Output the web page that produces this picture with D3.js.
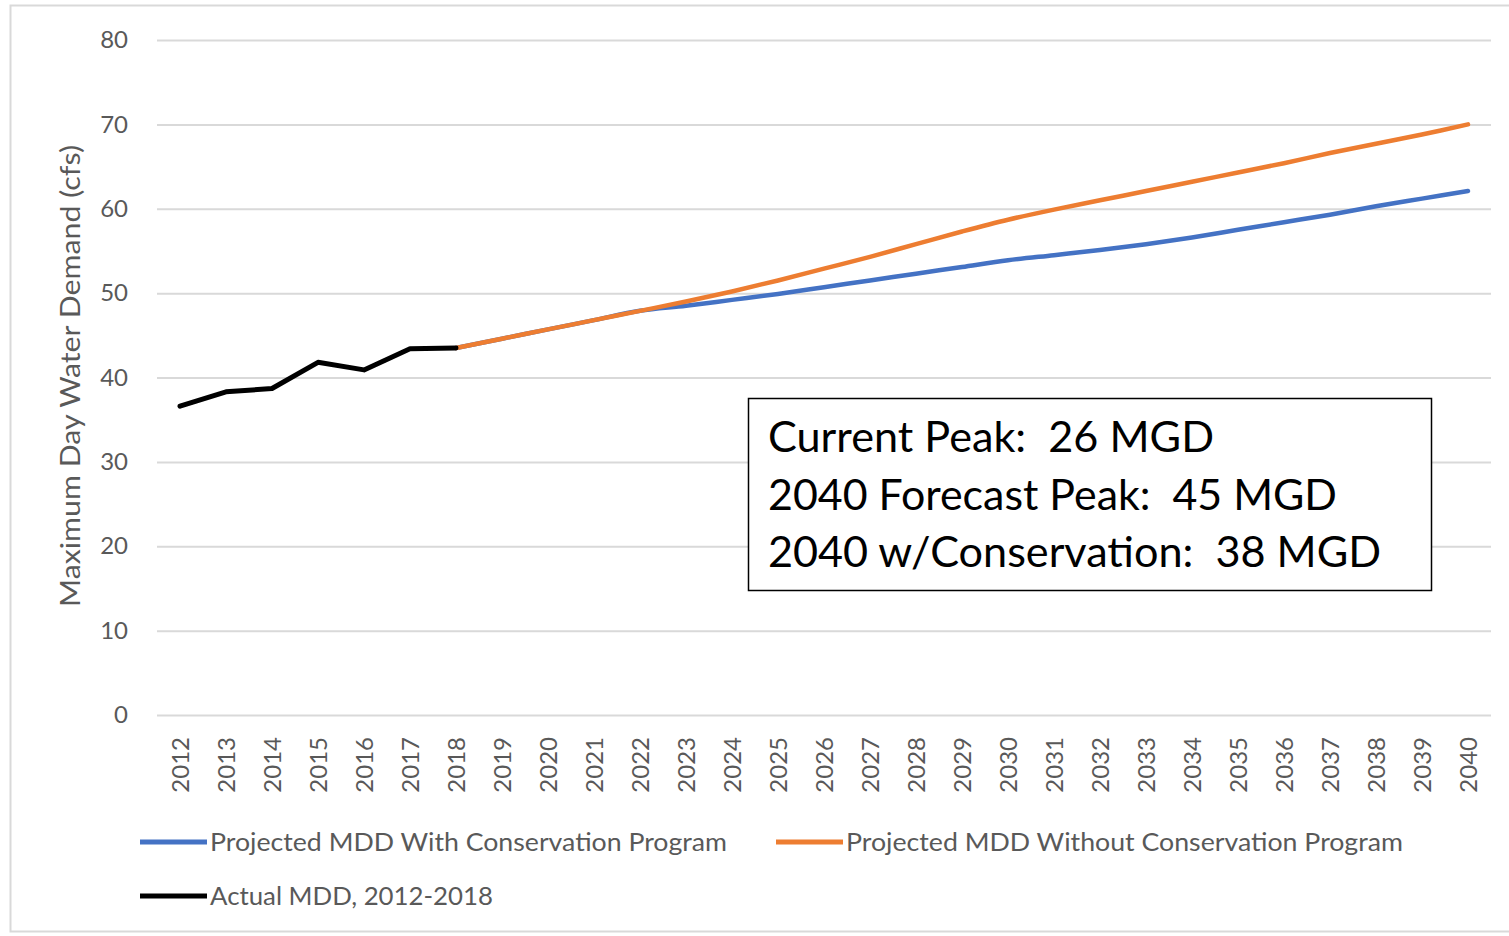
<!DOCTYPE html>
<html>
<head>
<meta charset="utf-8">
<script src="https://cdn.jsdelivr.net/npm/d3@7"></script>
<style>
  body { margin: 0; background: #fff; }
  svg { display: block; }
</style>
</head>
<body>
<div id="chart"></div>
<script>
// data (cfs)
const years = d3.range(2012, 2041).map(String);
const yTicks = [0, 10, 20, 30, 40, 50, 60, 70, 80];

const actualYears = ['2012', '2013', '2014', '2015', '2016', '2017', '2018'];
const actualValues = [36.6, 38.3, 38.7, 41.8, 40.9, 43.4, 43.5];

const projYears = d3.range(2018, 2041).map(String);
const withConservation = [43.5, 44.6, 45.7, 46.8, 47.9, 48.5, 49.2, 49.9, 50.7, 51.5, 52.3, 53.1,
  53.9, 54.5, 55.1, 55.8, 56.6, 57.5, 58.4, 59.3, 60.3, 61.2, 62.1];
const withoutConservation = [43.5, 44.6, 45.7, 46.8, 47.9, 49.0, 50.2, 51.5, 52.9, 54.3, 55.8, 57.3,
  58.7, 59.9, 61.0, 62.1, 63.2, 64.3, 65.4, 66.6, 67.7, 68.8, 70.0];

const legendLabels = [
  'Projected MDD With Conservation Program',
  'Projected MDD Without Conservation Program',
  'Actual MDD, 2012-2018'
];
const noteLines = [
  'Current Peak:  26 MGD',
  '2040 Forecast Peak:  45 MGD',
  '2040 w/Conservation:  38 MGD'
];

const width = 1509;
const height = 936;
const plot = { left: 157, right: 1491, top: 40, bottom: 715 };
const colors = { with: '#4472c4', without: '#ed7d31', actual: '#000000' };
const textGray = '#595959';
const font = 'Lato, "Open Sans", sans-serif';

const svg = d3.select('#chart').append('svg')
  .attr('width', width)
  .attr('height', height);

// outer chart border
svg.append('rect')
  .attr('x', 10.5).attr('y', 5.5)
  .attr('width', 1520).attr('height', 926)
  .attr('fill', '#fff')
  .attr('stroke', '#d9d9d9')
  .attr('stroke-width', 2);

const x = d3.scalePoint()
  .domain(years)
  .range([plot.left, plot.right])
  .padding(0.5);

const y = d3.scaleLinear()
  .domain([0, 80])
  .range([plot.bottom, plot.top]);

// y axis + gridlines
const yAxis = svg.append('g')
  .attr('transform', `translate(${plot.left},0)`)
  .call(d3.axisLeft(y)
    .tickValues(yTicks)
    .tickSize(-(plot.right - plot.left))
    .tickPadding(29));
yAxis.select('.domain').remove();
yAxis.selectAll('line')
  .attr('stroke', '#d9d9d9')
  .attr('stroke-width', 2);
yAxis.selectAll('text')
  .attr('fill', textGray)
  .style('font-family', font)
  .style('font-size', '24px');

// x axis labels, rotated
const xAxis = svg.append('g')
  .attr('transform', `translate(0,${plot.bottom})`)
  .call(d3.axisBottom(x).tickSize(0));
xAxis.select('.domain').remove();
xAxis.selectAll('text')
  .attr('transform', 'rotate(-90)')
  .attr('x', -22)
  .attr('y', 0)
  .attr('dy', '0.36em')
  .attr('fill', textGray)
  .style('text-anchor', 'end')
  .style('font-family', font)
  .style('font-size', '24px');

// y axis title
svg.append('text')
  .attr('transform', 'translate(80,376) rotate(-90)')
  .attr('text-anchor', 'middle')
  .attr('fill', textGray)
  .attr('textLength', 462)
  .attr('lengthAdjust', 'spacingAndGlyphs')
  .style('font-family', font)
  .style('font-size', '27px')
  .text('Maximum Day Water Demand (cfs)');

const smooth = d3.line()
  .x(d => x(d[0]))
  .y(d => y(d[1]))
  .curve(d3.curveCatmullRom.alpha(0.5));

const straight = d3.line()
  .x(d => x(d[0]))
  .y(d => y(d[1]));

svg.append('path')
  .datum(d3.zip(projYears, withConservation))
  .attr('d', smooth)
  .attr('fill', 'none')
  .attr('stroke', colors.with)
  .attr('stroke-width', 4.5)
  .attr('stroke-linecap', 'round');

svg.append('path')
  .datum(d3.zip(projYears, withoutConservation))
  .attr('d', smooth)
  .attr('fill', 'none')
  .attr('stroke', colors.without)
  .attr('stroke-width', 4.5)
  .attr('stroke-linecap', 'round');

svg.append('path')
  .datum(d3.zip(actualYears, actualValues))
  .attr('d', straight)
  .attr('fill', 'none')
  .attr('stroke', colors.actual)
  .attr('stroke-width', 5)
  .attr('stroke-linejoin', 'round')
  .attr('stroke-linecap', 'round');

// legend
const legendItems = [
  { label: legendLabels[0], color: colors.with, x: 140, y: 842, w: 517 },
  { label: legendLabels[1], color: colors.without, x: 776, y: 842, w: 557 },
  { label: legendLabels[2], color: colors.actual, x: 140, y: 896, w: 283 }
];
const legend = svg.append('g')
  .selectAll('g')
  .data(legendItems)
  .join('g')
  .attr('transform', d => `translate(${d.x},${d.y})`);
legend.append('line')
  .attr('x1', 0).attr('x2', 67)
  .attr('stroke', d => d.color)
  .attr('stroke-width', 5);
legend.append('text')
  .attr('x', 70)
  .attr('dy', '0.35em')
  .attr('fill', textGray)
  .attr('textLength', d => d.w)
  .attr('lengthAdjust', 'spacingAndGlyphs')
  .style('font-family', font)
  .style('font-size', '25px')
  .text(d => d.label);

// annotation box
const note = svg.append('g');
note.append('rect')
  .attr('x', 748.5).attr('y', 398.5)
  .attr('width', 683).attr('height', 192)
  .attr('fill', '#fff')
  .attr('stroke', '#000')
  .attr('stroke-width', 1.5);
const noteWidths = [446, 569, 613];
note.selectAll('text')
  .data(noteLines)
  .join('text')
  .attr('x', 768)
  .attr('y', (d, i) => 452 + i * 57.5)
  .attr('fill', '#000')
  .attr('textLength', (d, i) => noteWidths[i])
  .attr('lengthAdjust', 'spacingAndGlyphs')
  .style('white-space', 'pre')
  .style('font-family', font)
  .style('font-size', '42px')
  .text(d => d);
</script>
</body>
</html>
